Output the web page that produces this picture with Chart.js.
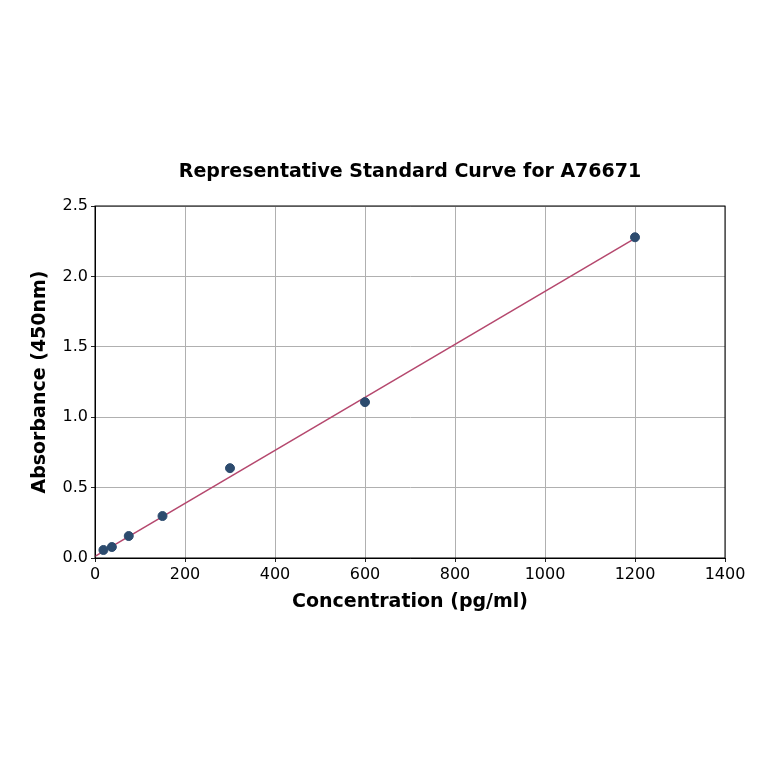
<!DOCTYPE html>
<html>
<head>
<meta charset="utf-8">
<script src="https://cdn.jsdelivr.net/npm/chart.js@4"></script>
<style>
  html, body { margin: 0; padding: 0; background: #fff; }
  #wrap { width: 764px; height: 764px; }
</style>
</head>
<body>
<div id="wrap"><canvas id="curve"></canvas></div>
<script>
// standard points
const concentration = [18.75, 37.5, 75, 150, 300, 600, 1200];
const absorbance = [0.057, 0.078, 0.156, 0.298, 0.638, 1.107, 2.278];

// fitted line ends
const fitX = [0, 1200];
const fitY = [0.012, 2.27];

const xTicks = [0, 200, 400, 600, 800, 1000, 1200, 1400];
const yTicks = [0.0, 0.5, 1.0, 1.5, 2.0, 2.5];

const chartTitle = 'Representative Standard Curve for A76671';
const FONT = "'DejaVu Sans', sans-serif";

const frame = {
  id: 'frame',
  afterDraw(chart) {
    const { ctx, chartArea: a } = chart;
    ctx.save();
    ctx.strokeStyle = '#000';
    ctx.lineWidth = 1;
    ctx.strokeRect(a.left, a.top, a.right - a.left, a.bottom - a.top);
    ctx.fillStyle = '#000';
    ctx.font = 'bold 19px ' + FONT;
    ctx.textAlign = 'center';
    ctx.textBaseline = 'middle';
    ctx.fillText(chartTitle, (a.left + a.right) / 2, 172);
    ctx.restore();
  }
};

function toPoints(xs, ys) {
  return xs.map((x, i) => ({ x: x, y: ys[i] }));
}

new Chart(document.getElementById('curve'), {
  type: 'scatter',
  data: {
    datasets: [{
      type: 'line',
      data: toPoints(fitX, fitY),
      borderColor: '#b5486e',
      borderWidth: 1.5,
      pointRadius: 0,
      fill: false,
      order: 2
    }, {
      data: toPoints(concentration, absorbance),
      backgroundColor: '#2c4b6e',
      borderColor: '#2c4b6e',
      pointRadius: 4.5,
      order: 1
    }]
  },
  options: {
    responsive: true,
    maintainAspectRatio: false,
    animation: false,
    layout: { padding: { top: 206, right: 39, left: 0, bottom: 0 } },
    plugins: {
      legend: { display: false },
      tooltip: { enabled: false }
    },
    scales: {
      x: {
        type: 'linear',
        min: 0,
        max: 1400,
        afterBuildTicks(scale) { scale.ticks = xTicks.map(v => ({ value: v })); },
        afterFit(scale) { scale.height = 206; },
        grid: { color: '#b0b0b0', tickColor: '#222', tickLength: 4 },
        border: { color: '#000' },
        ticks: {
          color: '#000',
          padding: 3,
          font: { family: FONT, size: 16 },
          callback: v => String(v)
        },
        title: {
          display: true,
          text: 'Concentration (pg/ml)',
          color: '#000',
          font: { family: FONT, size: 19, weight: 'bold' },
          padding: { top: 0, bottom: 151 }
        }
      },
      y: {
        type: 'linear',
        min: 0,
        max: 2.5,
        afterBuildTicks(scale) { scale.ticks = yTicks.map(v => ({ value: v })); },
        afterFit(scale) { scale.width = 95; },
        grid: { color: '#b0b0b0', tickColor: '#222', tickLength: 4 },
        border: { color: '#000' },
        ticks: {
          color: '#000',
          padding: 3,
          font: { family: FONT, size: 16 },
          callback: v => v.toFixed(1)
        },
        title: {
          display: true,
          text: 'Absorbance (450nm)',
          color: '#000',
          font: { family: FONT, size: 19, weight: 'bold' },
          padding: { top: 29, bottom: 0 }
        }
      }
    }
  },
  plugins: [frame]
});
</script>
</body>
</html>
